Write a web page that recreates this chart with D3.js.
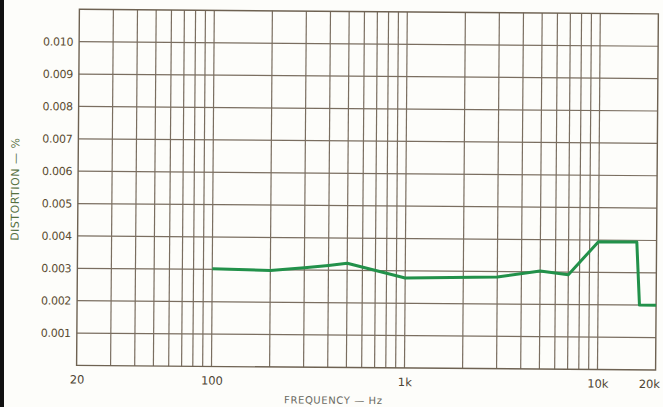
<!DOCTYPE html>
<html><head><meta charset="utf-8">
<script src="https://cdn.jsdelivr.net/npm/d3@7"></script>
<style>
html,body{margin:0;padding:0;background:#fdfdfa;}
svg{display:block;}
</style></head>
<body>
<svg id="chart" width="663" height="407"></svg>
<script>
// ---- data ----
const freqHz = [100, 200, 300, 400, 500, 1000, 3000, 5000, 7000, 10000, 15800, 16400, 20000];
const distortionPct = [0.00302, 0.00298, 0.00307, 0.00315, 0.00322, 0.00278, 0.00283, 0.00303, 0.00292, 0.00395, 0.00395, 0.00200, 0.00200];
const yTickValues = [0.001, 0.002, 0.003, 0.004, 0.005, 0.006, 0.007, 0.008, 0.009, 0.010];
const yTickLabels = ["0.001", "0.002", "0.003", "0.004", "0.005", "0.006", "0.007", "0.008", "0.009", "0.010"];
const xTickValues = [20, 100, 1000, 10000, 20000];
const xTickLabels = ["20", "100", "1k", "10k", "20k"];
const xGridValues = [30,40,50,60,70,80,90,100,200,300,400,500,600,700,800,900,1000,2000,3000,4000,5000,6000,7000,8000,9000,10000];
const yGridValues = [0.001,0.002,0.003,0.004,0.005,0.006,0.007,0.008,0.009,0.010];
const xTitle = "FREQUENCY — Hz";
const yTitle = "DISTORTION — %";

// ---- layout ----
const svg = d3.select("#chart");
const x = d3.scaleLog().domain([20, 20000]).range([78, 657]);
const y = d3.scaleLinear().domain([0, 0.011]).range([367.7, 11.6]);

svg.append("rect").attr("x",0).attr("y",0).attr("width",4).attr("height",407).attr("fill","#111");

const g = svg.append("g").attr("transform","rotate(0.45,368,188)");
const gridCol = "#7a6e60";

// vertical grid
g.append("g").selectAll("line").data(xGridValues).join("line")
  .attr("x1", d=>x(d)).attr("x2", d=>x(d))
  .attr("y1", y(0)).attr("y2", y(0.011))
  .attr("stroke", gridCol).attr("stroke-width", 1.2);
// horizontal grid
g.append("g").selectAll("line").data(yGridValues).join("line")
  .attr("x1", x(20)).attr("x2", x(20000))
  .attr("y1", d=>y(d)).attr("y2", d=>y(d))
  .attr("stroke", gridCol).attr("stroke-width", 1.2);
// frame
g.append("rect").attr("x", x(20)).attr("y", y(0.011))
  .attr("width", x(20000)-x(20)).attr("height", y(0)-y(0.011))
  .attr("fill","none").attr("stroke","#6e6252").attr("stroke-width",1.4);

// y tick labels
const yAxis = d3.axisLeft(y).tickValues(yTickValues)
  .tickFormat((d,i)=>yTickLabels[i]).tickSize(0).tickPadding(6);
const ya = g.append("g").attr("transform",`translate(${x(20)},0)`).call(yAxis);
ya.select(".domain").remove();
ya.selectAll("text").attr("font-family","DejaVu Sans, sans-serif").attr("font-size",11)
  .attr("fill","#5a4b30").attr("letter-spacing","-0.3px");

// x tick labels
const xAxis = d3.axisBottom(x).tickValues(xTickValues)
  .tickFormat((d,i)=>xTickLabels[i]).tickSize(0).tickPadding(10);
const xa = g.append("g").attr("transform",`translate(0,${y(0)})`).call(xAxis);
xa.select(".domain").remove();
xa.selectAll("text").attr("font-family","DejaVu Sans, sans-serif").attr("font-size",11.5)
  .attr("fill","#4d4433");
// keep the last label inside the page edge
xa.selectAll(".tick").filter(d=>d===20000).select("text")
  .attr("text-anchor","end").attr("dx", 4);

// line
const line = d3.line().x((d,i)=>x(freqHz[i])).y(d=>y(d));
g.append("path").datum(distortionPct).attr("d", line)
  .attr("fill","none").attr("stroke","#22914a").attr("stroke-width",3)
  .attr("stroke-linejoin","round");

// titles
g.append("text").attr("x", 335).attr("y", 404).attr("text-anchor","middle")
  .attr("font-family","DejaVu Sans, sans-serif").attr("font-size",10).attr("letter-spacing","0.6px")
  .attr("fill","#6a6a62").text(xTitle);
g.append("text").attr("transform","translate(19,192) rotate(-90)").attr("text-anchor","middle")
  .attr("font-family","DejaVu Sans, sans-serif").attr("font-size",11).attr("letter-spacing","0.5px")
  .attr("fill","#55703f").text(yTitle);
</script>
</body></html>
